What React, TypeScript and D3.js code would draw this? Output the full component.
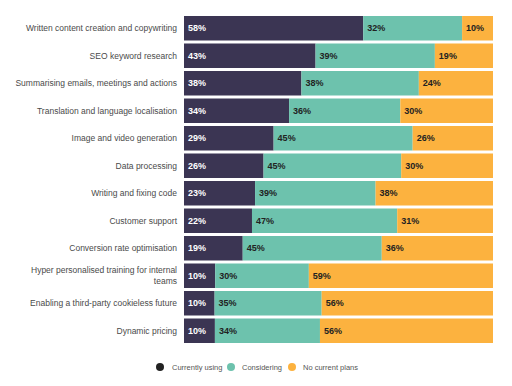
import React from "react";
import * as d3 from "d3";

const categories = [
  "Written content creation and copywriting",
  "SEO keyword research",
  "Summarising emails, meetings and actions",
  "Translation and language localisation",
  "Image and video generation",
  "Data processing",
  "Writing and fixing code",
  "Customer support",
  "Conversion rate optimisation",
  "Hyper personalised training for internal teams",
  "Enabling a third-party cookieless future",
  "Dynamic pricing",
];
const currentlyUsing = [58, 43, 38, 34, 29, 26, 23, 22, 19, 10, 10, 10];
const considering = [32, 39, 38, 36, 45, 45, 39, 47, 45, 30, 35, 34];
const noCurrentPlans = [10, 19, 24, 30, 26, 30, 38, 31, 36, 59, 56, 56];
const seriesNames = ["Currently using", "Considering", "No current plans"];
const labelLines: Record<string, string[]> = {
  "Hyper personalised training for internal teams": ["Hyper personalised training for internal", "teams"],
};

const W = 512;
const H = 386;
const colors = ["#3b3553", "#6dc2ad", "#fcb23f"];
const textColors = ["#ffffff", "#222222", "#222222"];
const FONT = "Liberation Sans, Arial, sans-serif";

export default function App() {
  const rows = categories.map((c, i) => ({
    cat: c,
    s0: currentlyUsing[i],
    s1: considering[i],
    s2: noCurrentPlans[i],
  }));
  const keys = ["s0", "s1", "s2"];
  const stack = d3.stack<any>().keys(keys).offset(d3.stackOffsetExpand);
  const series = stack(rows);
  const values = [currentlyUsing, considering, noCurrentPlans];

  const x = d3.scaleLinear().domain([0, 1]).range([184, 493]);
  const y = d3
    .scaleBand<string>()
    .domain(categories)
    .range([14.5, 344.5])
    .paddingInner(0.109)
    .paddingOuter(0.0545);

  const legendItems = [
    { dx: 160, tx: 172 },
    { dx: 231, tx: 242 },
    { dx: 292, tx: 303 },
  ];

  return (
    <svg
      width={W}
      height={H}
      style={{ position: "absolute", left: 0, top: 0, background: "#fff" }}
      fontFamily={FONT}
    >
      {series.map((s, si) =>
        s.map((d, i) => {
          const x0 = x(d[0]);
          const x1 = x(d[1]);
          const yy = y(categories[i])!;
          const bh = y.bandwidth();
          return (
            <g key={`${si}-${i}`}>
              <rect x={x0} y={yy} width={Math.max(0, x1 - x0)} height={bh} fill={colors[si]} />
              <text
                x={x0 + 4}
                y={yy + bh / 2}
                dy="0.35em"
                fontSize={9}
                fontWeight="bold"
                fill={textColors[si]}
              >
                {values[si][i]}%
              </text>
            </g>
          );
        })
      )}
      {categories.map((c) => {
        const lines = labelLines[c] || [c];
        const cy = y(c)! + y.bandwidth() / 2;
        const lh = 10.5;
        const start = cy - ((lines.length - 1) * lh) / 2;
        return (
          <text key={c} x={177} textAnchor="end" fontSize={8.5} fill="#4a4a4a">
            {lines.map((l, li) => (
              <tspan key={li} x={177} y={start + li * lh} dy="0.35em">
                {l}
              </tspan>
            ))}
          </text>
        );
      })}
      {seriesNames.map((n, i) => (
        <g key={n}>
          <circle cx={legendItems[i].dx} cy={367} r={4} fill={i === 0 ? "#222" : colors[i]} />
          <text x={legendItems[i].tx} y={367} dy="0.35em" fontSize={7.5} fill="#555">
            {n}
          </text>
        </g>
      ))}
    </svg>
  );
}
